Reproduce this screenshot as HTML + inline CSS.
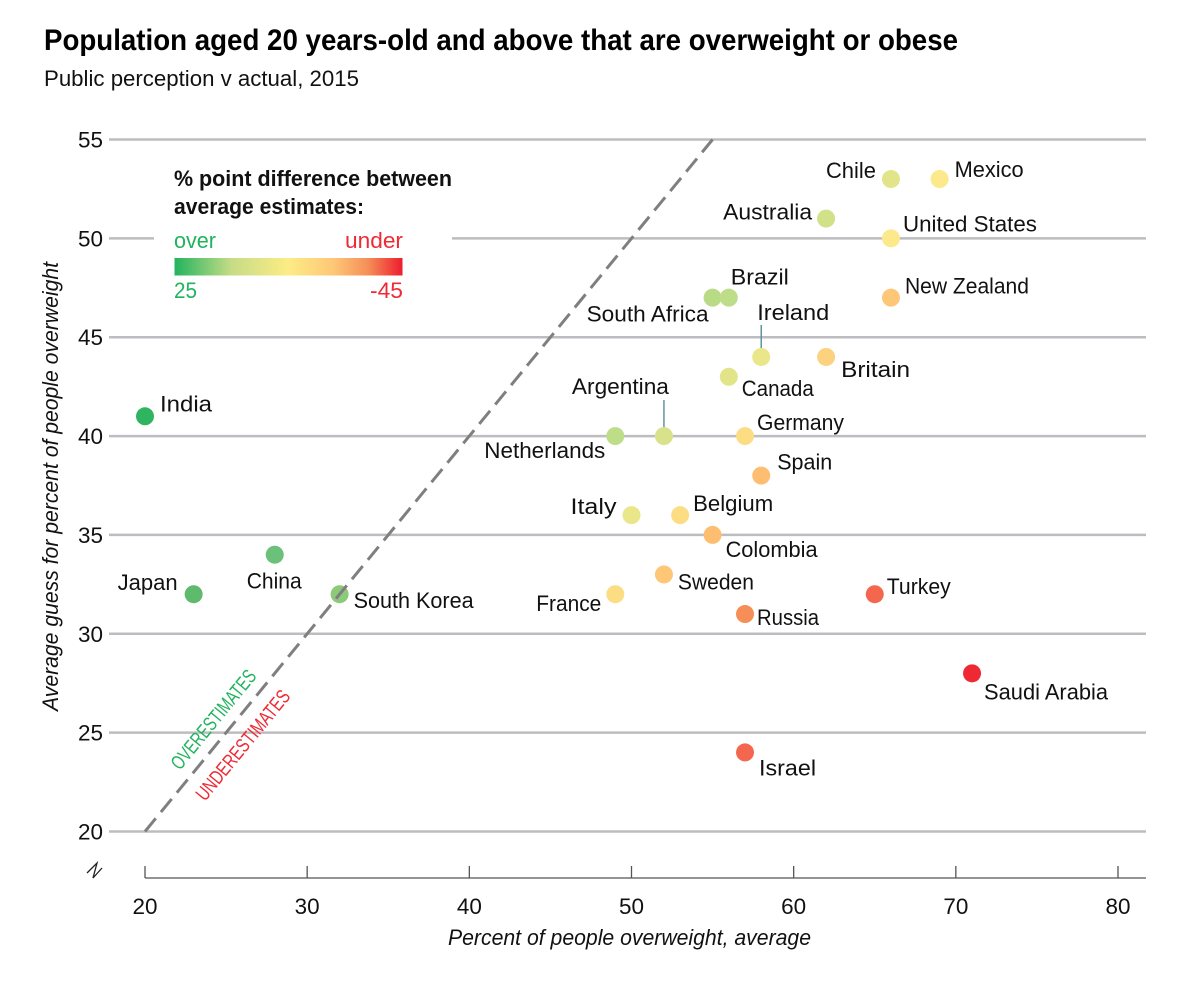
<!DOCTYPE html>
<html>
<head>
<meta charset="utf-8">
<style>
html,body{margin:0;padding:0;background:#fff;}
svg{display:block;font-family:"Liberation Sans",sans-serif;}
</style>
</head>
<body>
<svg id="chart" width="1190" height="982" viewBox="0 0 1190 982" xmlns="http://www.w3.org/2000/svg">
  <defs>
    <linearGradient id="scaleGrad" x1="0" x2="1" y1="0" y2="0">
      <stop offset="0" stop-color="#22b35e"/>
      <stop offset="0.25" stop-color="#c6dc86"/>
      <stop offset="0.5" stop-color="#fdec85"/>
      <stop offset="0.7" stop-color="#fec677"/>
      <stop offset="0.85" stop-color="#f58e57"/>
      <stop offset="1" stop-color="#ee1c2e"/>
    </linearGradient>
  </defs>
  <text x="44" y="50" font-size="30" font-weight="700" fill="#000" textLength="914" lengthAdjust="spacingAndGlyphs">Population aged 20 years-old and above that are overweight or obese</text>
  <text x="44" y="86" font-size="22" fill="#111" textLength="315" lengthAdjust="spacingAndGlyphs">Public perception v actual, 2015</text>
  <g id="grid"></g>
  <g id="yticks"></g>
  <g id="xaxis"></g>
  <path d="M87,873 L97,863 L93,878 L102,868" fill="none" stroke="#222" stroke-width="1.3"/>
  <g id="legend">
    <rect x="154" y="160" width="298" height="150" fill="#fff"/>
    <text x="174" y="186" font-size="22" font-weight="700" fill="#111" textLength="278" lengthAdjust="spacingAndGlyphs">% point difference between</text>
    <text x="174" y="214" font-size="22" font-weight="700" fill="#111" textLength="190" lengthAdjust="spacingAndGlyphs">average estimates:</text>
    <text x="174" y="248" font-size="22" fill="#22b35e" textLength="42" lengthAdjust="spacingAndGlyphs">over</text>
    <text x="345" y="248" font-size="22" fill="#ee2b35" textLength="58" lengthAdjust="spacingAndGlyphs">under</text>
    <rect x="174.5" y="258" width="228" height="17.5" fill="url(#scaleGrad)"/>
    <text x="174" y="298" font-size="22" fill="#22b35e" textLength="23" lengthAdjust="spacingAndGlyphs">25</text>
    <text x="370" y="298" font-size="22" fill="#ee2b35" textLength="33" lengthAdjust="spacingAndGlyphs">-45</text>
  </g>
  <text id="overT" font-size="20" fill="#22b35e" textLength="122" lengthAdjust="spacingAndGlyphs">OVERESTIMATES</text>
  <text id="underT" font-size="20" fill="#ee2b35" textLength="136" lengthAdjust="spacingAndGlyphs">UNDERESTIMATES</text>
  <g id="leaders"></g>
  <g id="points"></g>
  <line id="diag" stroke="#7f7f7f" stroke-width="3" stroke-dasharray="17 8.1"/>
  <g id="labels"></g>
  <text transform="translate(58,711) rotate(-90)" font-size="22" font-style="italic" fill="#111" textLength="449" lengthAdjust="spacingAndGlyphs">Average guess for percent of people overweight</text>
  <text x="448" y="945" font-size="22" font-style="italic" fill="#111" textLength="363" lengthAdjust="spacingAndGlyphs">Percent of people overweight, average</text>
</svg>
<script>
const countries = ["India","Japan","China","South Korea","Netherlands","Argentina","South Africa","Brazil","Ireland","Canada","Britain","Germany","Spain","Italy","Belgium","Colombia","Sweden","France","Russia","Turkey","Saudi Arabia","Israel","Chile","Mexico","Australia","United States","New Zealand"];
const actualValues = [20,23,28,32,49,52,55,56,58,56,62,57,58,50,53,55,52,49,57,65,71,57,66,69,62,66,66];
const guessValues = [41,32,34,32,40,40,47,47,44,43,44,40,38,36,36,35,33,32,31,32,28,24,53,53,51,50,47];
const xTickValues = [20,30,40,50,60,70,80];
const yTickValues = [20,25,30,35,40,45,50,55];
const colorDomain = [25,9,6,0,-9,-13,-16,-19,-26,-33,-45];
const colorRange = ["#1fb25a","#5fba6e","#6cc17a","#8dc97a","#bedd88","#e2e48a","#fbe98b","#fec677","#f58e57","#f4674e","#ee1c2e"];

/* Label placement relative to each point: dx, dy to baseline, text width */
const labelLayout = {
  "India":[15,-5,52],"Japan":[-76,-4,60],"China":[-28,34,55],"South Korea":[14,14,120],
  "Netherlands":[-131,22,121],"Argentina":[-92,-42,97],"South Africa":[-126,24,122],"Brazil":[2,-13,58],
  "Ireland":[-4,-37,72],"Canada":[13,19,72],"Britain":[15,20,69],"Germany":[12,-6,87],
  "Spain":[16,-6,55],"Italy":[-61,-1,46],"Belgium":[13,-4,80],"Colombia":[13,22,92],
  "Sweden":[14,15,76],"France":[-79,17,65],"Russia":[12,11,62],"Turkey":[12,0,64],
  "Saudi Arabia":[12,26,124],"Israel":[14,23,57],"Chile":[-65,-1,50],"Mexico":[15,-2,69],
  "Australia":[-103,1,89],"United States":[12,-7,134],"New Zealand":[14,-4,124]
};
const leaderCountries = {"Argentina":[-36,-8],"Ireland":[-32,-9]};

const NS = "http://www.w3.org/2000/svg";
const xScale = v => 145 + (v - 20) * (1118 - 145) / 60;
const yScale = v => 831.5 - (v - 20) * (831.5 - 139.5) / 35;

function hexToRgb(h){return [1,3,5].map(i=>parseInt(h.substr(i,2),16));}
function colorFor(diff){
  if(diff >= colorDomain[0]) return colorRange[0];
  for(let i=1;i<colorDomain.length;i++){
    if(diff >= colorDomain[i]){
      const t=(colorDomain[i-1]-diff)/(colorDomain[i-1]-colorDomain[i]);
      const a=hexToRgb(colorRange[i-1]),b=hexToRgb(colorRange[i]);
      return "rgb("+a.map((c,k)=>Math.round(c+(b[k]-c)*t)).join(",")+")";
    }
  }
  return colorRange[colorRange.length-1];
}
const slug = s => s.toLowerCase().replace(/\s+/g,"-");

const grid=document.getElementById("grid"), yt=document.getElementById("yticks"), xa=document.getElementById("xaxis");
yTickValues.forEach(v=>{
  const l=document.createElementNS(NS,"line");
  
  
  l.setAttribute("x1",109);l.setAttribute("x2",1146);
  l.setAttribute("y1",yScale(v));l.setAttribute("y2",yScale(v));
  l.setAttribute("stroke","#bdbdc1");l.setAttribute("stroke-width",2.5);
  grid.appendChild(l);
  const t=document.createElementNS(NS,"text");
  
  
  t.setAttribute("x",78);t.setAttribute("y",yScale(v)+8);
  t.setAttribute("font-size",22);t.setAttribute("fill","#111");
  t.setAttribute("textLength",25);t.setAttribute("lengthAdjust","spacingAndGlyphs");
  t.textContent=v;
  yt.appendChild(t);
});
const axisLine=document.createElementNS(NS,"line");


axisLine.setAttribute("x1",xScale(xTickValues[0]));axisLine.setAttribute("x2",1146);
axisLine.setAttribute("y1",878);axisLine.setAttribute("y2",878);
axisLine.setAttribute("stroke","#555");axisLine.setAttribute("stroke-width",1.3);
xa.appendChild(axisLine);
xTickValues.forEach(v=>{
  const l=document.createElementNS(NS,"line");
  
  
  l.setAttribute("x1",xScale(v));l.setAttribute("x2",xScale(v));
  l.setAttribute("y1",866);l.setAttribute("y2",878);
  l.setAttribute("stroke","#555");l.setAttribute("stroke-width",1.3);
  xa.appendChild(l);
  const t=document.createElementNS(NS,"text");
  
  
  t.setAttribute("x",xScale(v)-12.5);t.setAttribute("y",914);
  t.setAttribute("font-size",22);t.setAttribute("fill","#111");
  t.setAttribute("textLength",25);t.setAttribute("lengthAdjust","spacingAndGlyphs");
  t.textContent=v;
  xa.appendChild(t);
});

const diag=document.getElementById("diag");
diag.setAttribute("x1",xScale(20));diag.setAttribute("y1",yScale(20));
diag.setAttribute("x2",xScale(55));diag.setAttribute("y2",yScale(55));
const angle=-Math.atan2(yScale(20)-yScale(55),xScale(55)-xScale(20))*180/Math.PI;
document.getElementById("overT").setAttribute("transform","translate(180,771) rotate("+angle+")");
document.getElementById("underT").setAttribute("transform","translate(205,802) rotate("+angle+")");

const pts=document.getElementById("points"),lbs=document.getElementById("labels"),lds=document.getElementById("leaders");
countries.forEach((name,i)=>{
  const cx=xScale(actualValues[i]),cy=yScale(guessValues[i]);
  const c=document.createElementNS(NS,"circle");
  
  
  c.setAttribute("cx",cx);c.setAttribute("cy",cy);c.setAttribute("r",9);
  c.setAttribute("fill",colorFor(guessValues[i]-actualValues[i]));
  pts.appendChild(c);
  const p=labelLayout[name];
  const t=document.createElementNS(NS,"text");
  
  
  t.setAttribute("x",cx+p[0]);t.setAttribute("y",cy+p[1]);
  t.setAttribute("font-size",22);t.setAttribute("fill","#111");
  t.setAttribute("textLength",p[2]);t.setAttribute("lengthAdjust","spacingAndGlyphs");
  t.textContent=name;
  lbs.appendChild(t);
  if(leaderCountries[name]){
    const l=document.createElementNS(NS,"line");
    
    
    l.setAttribute("x1",cx);l.setAttribute("x2",cx);
    l.setAttribute("y1",cy+leaderCountries[name][0]);l.setAttribute("y2",cy+leaderCountries[name][1]);
    l.setAttribute("stroke","#5f93a3");l.setAttribute("stroke-width",1.5);
    lds.appendChild(l);
  }
});
</script>
</body>
</html>
